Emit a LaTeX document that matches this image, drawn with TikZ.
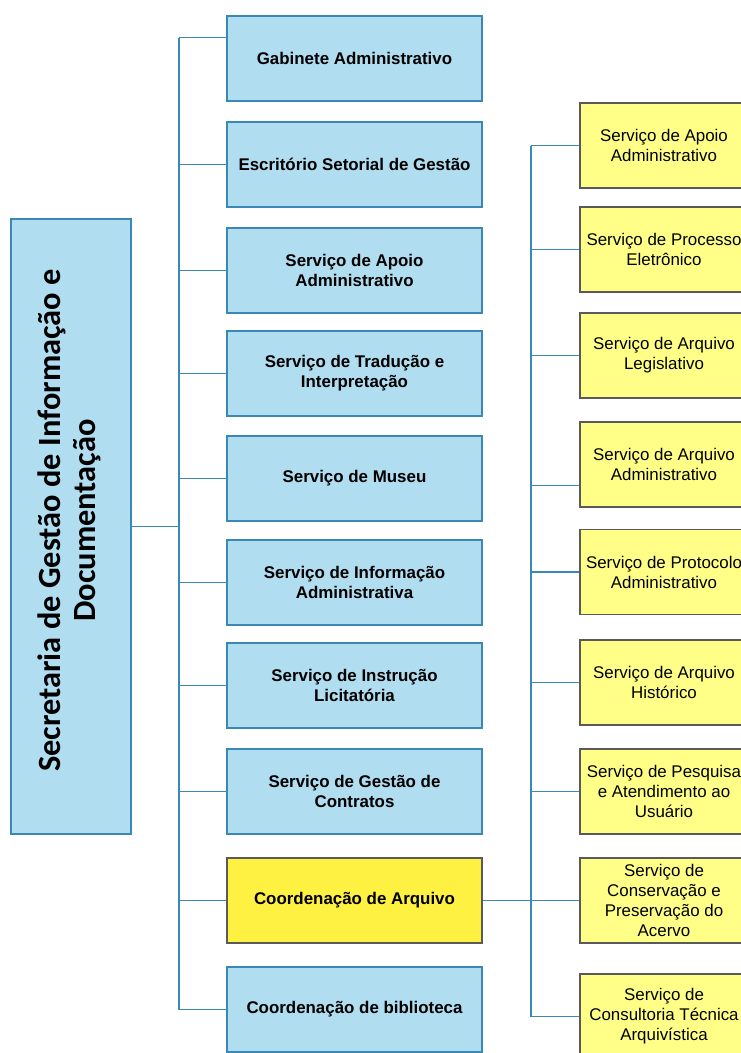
\documentclass[tikz,border=0pt]{standalone}
\usepackage{fontspec}
\setmainfont{Liberation Sans}
\newfontfamily\titlefont{Carlito}
\begin{document}
\begin{tikzpicture}[x=1bp,y=-1bp,
  line/.style={draw=linkblue,line width=1.3bp},
  bluebox/.style={rectangle,draw=boxblue,line width=1.6bp,fill=fillblue,
    minimum width=255bp,minimum height=85bp,inner sep=0pt,align=center,
    font=\fontsize{16.9bp}{20bp}\selectfont\bfseries},
  yelbox/.style={rectangle,draw=boxgray,line width=1.6bp,fill=fillyellow,
    minimum width=168bp,minimum height=85bp,inner sep=0pt,align=center,
    font=\fontsize{16.9bp}{20bp}\selectfont},
  coordbox/.style={bluebox,draw=boxgray,fill=fillgold}]
\definecolor{linkblue}{HTML}{3A89B4}
\definecolor{boxblue}{HTML}{3A89B4}
\definecolor{fillblue}{HTML}{B1DDF0}
\definecolor{boxgray}{HTML}{5A5A5A}
\definecolor{fillyellow}{HTML}{FFFF88}
\definecolor{fillgold}{HTML}{FFF142}
\useasboundingbox (0,0) rectangle (741,1053);
\begin{scope}
\clip (0,0) rectangle (741,1053);

% secretariat
\node[bluebox,minimum width=120bp,minimum height=615bp] (sec) at (71,526.5)
  {\rotatebox{90}{\hspace*{12bp}\titlefont\fontsize{32.4bp}{35bp}\selectfont\bfseries
   \begin{tabular}{@{}c@{}}Secretaria de Gestão de Informação e\\Documentação\end{tabular}}};

% first level
\node[bluebox] (gab) at (354.5,58.5) {Gabinete Administrativo};
\node[bluebox] (esc) at (354.5,164.5) {Escritório Setorial de Gestão};
\node[bluebox] (apo) at (354.5,270.5) {Serviço de Apoio\\Administrativo};
\node[bluebox] (tra) at (354.5,373.5) {Serviço de Tradução e\\Interpretação};
\node[bluebox] (mus) at (354.5,478.5) {Serviço de Museu};
\node[bluebox] (inf) at (354.5,582.5) {Serviço de Informação\\Administrativa};
\node[bluebox] (ins) at (354.5,685.5) {Serviço de Instrução\\Licitatória};
\node[bluebox] (ges) at (354.5,791.5) {Serviço de Gestão de\\Contratos};
\node[coordbox] (arq) at (354.5,900.5) {Coordenação de Arquivo};
\node[bluebox] (bib) at (354.5,1009.5) {Coordenação de biblioteca};

% archive services
\node[yelbox] (s1) at (664,145.5) {Serviço de Apoio\\Administrativo};
\node[yelbox] (s2) at (664,249.5) {Serviço de Processo\\Eletrônico};
\node[yelbox] (s3) at (664,355.5) {Serviço de Arquivo\\Legislativo};
\node[yelbox] (s4) at (664,464.5) {Serviço de Arquivo\\Administrativo};
\node[yelbox] (s5) at (664,572) {Serviço de Protocolo\\Administrativo};
\node[yelbox] (s6) at (664,682.5) {Serviço de Arquivo\\Histórico};
\node[yelbox] (s7) at (664,791.5) {Serviço de Pesquisa\\e Atendimento ao\\Usuário};
\node[yelbox] (s8) at (664,900.5) {Serviço de\\Conservação e\\Preservação do\\Acervo};
\node[yelbox] (s9) at (664,1016.5) {Serviço de\\Consultoria Técnica\\Arquivística};

% buses
\coordinate (busL) at (179,0);
\coordinate (busR) at (531,0);
\coordinate (gabin) at ([yshift=21bp]gab.west);
\coordinate (s4in) at ([yshift=-21bp]s4.west);

\draw[line] (sec.east) -- (sec.east -| busL);
\draw[line] (busL |- gabin) -- (busL |- bib.west);
\draw[line] (busL |- gabin) -- (gabin);
\foreach \n in {esc,apo,tra,mus,inf,ins,ges,arq,bib}
  \draw[line] (busL |- \n.west) -- (\n.west);

\draw[line] (arq.east) -- (s8.west);
\draw[line] (busR |- s1.west) -- (busR |- s9.west);
\draw[line] (busR |- s4in) -- (s4in);
\foreach \n in {s1,s2,s3,s5,s6,s7,s9}
  \draw[line] (busR |- \n.west) -- (\n.west);
\end{scope}
\end{tikzpicture}
\end{document}
